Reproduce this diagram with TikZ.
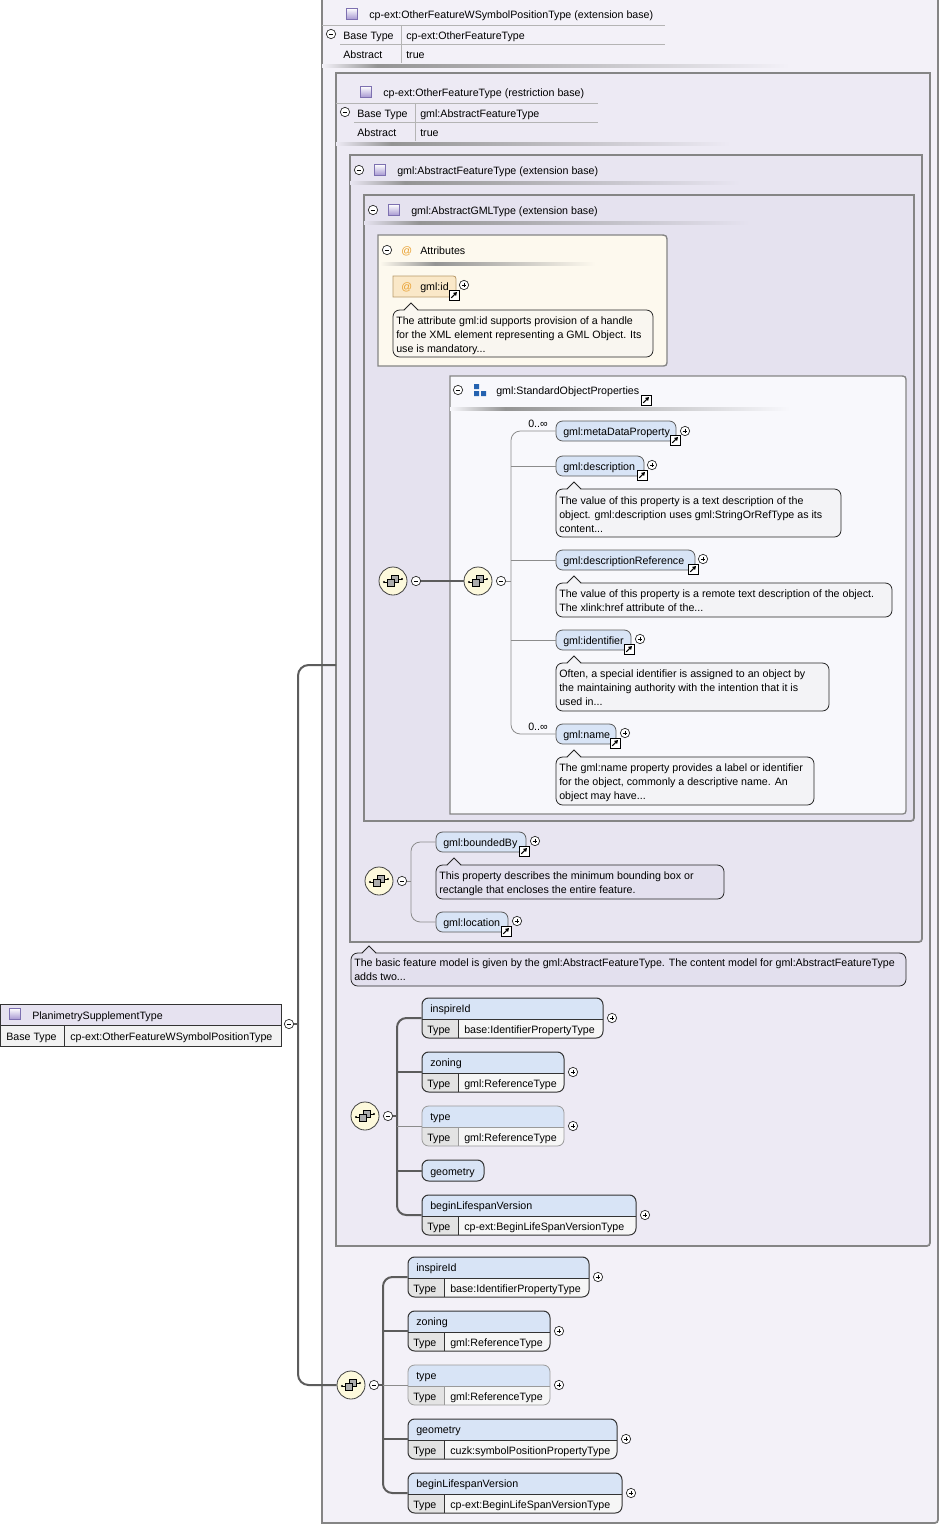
\documentclass[tikz,border=0pt]{standalone}
\usepackage{fontspec}
\setmainfont{Liberation Sans}
\usetikzlibrary{calc,fit,arrows.meta}
\definecolor{cA}{HTML}{F3F1F8}
\definecolor{cB}{HTML}{EDEAF4}
\definecolor{cC}{HTML}{E8E5F1}
\definecolor{cD}{HTML}{E5E2EF}
\definecolor{framegray}{HTML}{858585}
\definecolor{attfill}{HTML}{FDF9EE}
\definecolor{idfill}{HTML}{FAE8C8}
\definecolor{idborder}{HTML}{B89A6A}
\definecolor{atcol}{HTML}{E9A030}
\definecolor{sopfill}{HTML}{F8F8FC}
\definecolor{elfill}{HTML}{D8E4F6}
\definecolor{typecell}{HTML}{E3E3E3}
\definecolor{valcell}{HTML}{F6F6F6}
\definecolor{elbcol}{HTML}{333333}
\definecolor{elbocol}{HTML}{9A9A9A}
\definecolor{pillborder}{HTML}{5A5A5A}
\definecolor{seqfill}{HTML}{FDF9DC}
\definecolor{conncol}{HTML}{5C5C5C}
\definecolor{thincol}{HTML}{8C8C8C}
\definecolor{iconpurple}{HTML}{A394D0}
\definecolor{iconborder}{HTML}{7D70B0}
\definecolor{sopblue}{HTML}{2462B0}
\definecolor{noteA}{HTML}{F9F6F0}
\definecolor{noteB}{HTML}{F3F3F6}
\definecolor{noteC}{HTML}{E3E0EE}
\definecolor{lhead}{HTML}{E6E2F0}
\definecolor{lrow}{HTML}{F2F2F2}
\definecolor{tabline}{HTML}{B4B4B4}

\newcommand{\minusn}[3]{\node[pmc] (#1) at (#2,#3) {};
  \draw[pml] (#2-2.4,#3) -- (#2+2.4,#3);}
\newcommand{\plusn}[3]{\minusn{#1}{#2}{#3}
  \draw[pml] (#2,#3-2.4) -- (#2,#3+2.4);}
\newcommand{\linkn}[3]{\node[lnk] (#1) at (#2,#3) {};
  \draw[line width=0.8pt, -{Triangle[length=2.6pt,width=3pt]}] (#2-2.8,#3+2.8) -- (#2+3,#3-3);}
\newcommand{\seqn}[3]{\node[seqc] (#1) at (#2,#3) {};
  \draw[line width=0.5pt] (#2-9,#3+1) -- (#2-5,#3+1) (#2+4,#3-2) -- (#2+9,#3-2);
  \fill (#2-9,#3+1) circle (0.9pt) (#2+9,#3-2) circle (0.9pt);
  \draw[fill=gray!65, line width=0.45pt] (#2-2,#3-6) rectangle (#2+5,#3+1);
  \draw[fill=gray!65, line width=0.45pt] (#2-6,#3-2) rectangle (#2+1,#3+5);}
\newcommand{\picn}[3]{\node[picon] (#1) at (#2,#3) {};}
\newcommand{\gline}[4]{%
  \shade[left color=#4, right color=black!42] (#1,#2-1.2) rectangle (#1+55,#2+1.2);
  \shade[left color=black!42, right color=#4] (#1+55,#2-1.2) rectangle (#3,#2+1.2);}
\newcommand{\ntl}[4]{\node[txt] (#1) at (#2,#3) {#4};}
\newcommand{\pill}[5]{\node[pillst, fit={(#2,#3)(#4,#3+20)}] (#1) {};
  \node[txt] (#1t) at (#2+7,#3+14) {#5};}
\newcommand{\typed}[7]{%
  \node[inner sep=0pt, fit={(#2,#3)(#4,#3+40)}] (#1) {};
  \begin{scope}
    \clip[rounded corners=5pt] (#2,#3) rectangle (#4,#3+40);
    \fill[elfill] (#2,#3) rectangle (#4,#3+21);
    \fill[typecell] (#2,#3+21) rectangle (#2+36,#3+40);
    \fill[valcell] (#2+36,#3+21) rectangle (#4,#3+40);
  \end{scope}
  \draw[#7, line width=0.5pt] (#2,#3+21) -- (#4,#3+21) (#2+36,#3+21) -- (#2+36,#3+40);
  \draw[#7, rounded corners=5pt] (#2,#3) rectangle (#4,#3+40);
  \node[txt] (#1l) at (#2+8,#3+14) {#5};
  \node[txt] (#1k) at (#2+5,#3+35) {Type};
  \node[txt] (#1v) at (#2+42,#3+35) {#6};}
\newcommand{\notebox}[6]{%
  \node[notest, fill=#6, fit={(#2,#3)(#4,#5)}] (#1) {};
  \fill[#6] (#2+11,#3+0.9) -- (#2+18,#3-7) -- (#2+25,#3+0.9) -- cycle;
  \draw[line width=0.6pt, black!85] (#2+11,#3) -- (#2+18,#3-7) -- (#2+25,#3);}
\newcommand{\framebr}[6]{%
  \node[inner sep=0pt, fit={(#2,#3)(#4,#5)}] (#1) {};
  \filldraw[frm, fill=#6] (#2,#3) -- (#4,#3) -- (#4,#5-7) .. controls (#4,#5) .. (#4-7,#5) -- (#2,#5) -- cycle;}

\begin{document}
\begin{tikzpicture}[x=0.75pt,y=-0.75pt,
  txt/.style={font=\fontsize{8}{10}\selectfont, inner sep=0pt, anchor=base west, text=black},
  pmc/.style={circle, draw=black!85, fill=white, line width=0.5pt, minimum size=7pt, inner sep=0pt},
  pml/.style={line width=0.55pt, black},
  lnk/.style={rectangle, draw=black, fill=white, line width=0.6pt, minimum size=7.5pt, inner sep=0pt},
  seqc/.style={circle, draw=black!75, fill=seqfill, line width=0.6pt, minimum size=21pt, inner sep=0pt},
  pillst/.style={draw=pillborder, fill=elfill, rounded corners=5pt, line width=0.6pt, inner sep=0pt},
  notest/.style={draw=black!85, rounded corners=5pt, line width=0.6pt, inner sep=0pt},
  frm/.style={draw=framegray, line width=1.3pt},
  conn/.style={draw=conncol, line width=1.5pt},
  thinconn/.style={draw=thincol, line width=0.6pt},
  picon/.style={rectangle, draw=iconborder, top color=white, bottom color=iconpurple, minimum size=8.5pt, inner sep=0pt, line width=0.4pt},
  elb/.style={draw=elbcol, line width=0.75pt},
  elbo/.style={draw=elbocol, line width=0.6pt},
  tl/.style={draw=tabline, line width=0.5pt}]
\useasboundingbox (0,0) rectangle (940,1525);
\fill[white] (0,0) rectangle (940,1525);

% ---------- frame A (extension base) ----------
\node[inner sep=0pt, fit={(322,0)(938,1523)}] (fA) {};
\fill[cA] (322,0) rectangle (938,1523);
\draw[frm] (322,0) -- (322,1523) -- (931,1523) .. controls (938,1523) .. (938,1516) -- (938,0);
\picn{iA}{352}{14}
\ntl{tA}{369}{18}{cp-ext:OtherFeatureWSymbolPositionType (extension base)}
\draw[tl] (322,25) -- (665,25);
\draw[tl] (340,44) -- (665,44);
\draw[tl] (401,26) -- (401,63);
\minusn{mA}{331}{34}
\ntl{tA1}{343}{39}{Base Type}
\ntl{tA2}{406}{39}{cp-ext:OtherFeatureType}
\ntl{tA3}{343}{58}{Abstract}
\ntl{tA4}{406}{58}{true}
\gline{322}{66}{790}{cA}

% ---------- frame B (restriction base) ----------
\framebr{fB}{336}{73}{930}{1246}{cB}
\picn{iB}{366}{92}
\ntl{tB}{383}{96}{cp-ext:OtherFeatureType (restriction base)}
\draw[tl] (336,103) -- (598,103);
\draw[tl] (354,122) -- (598,122);
\draw[tl] (415,104) -- (415,141);
\minusn{mB}{345}{112}
\ntl{tB1}{357}{117}{Base Type}
\ntl{tB2}{420}{117}{gml:AbstractFeatureType}
\ntl{tB3}{357}{136}{Abstract}
\ntl{tB4}{420}{136}{true}
\gline{336}{144}{730}{cB}

% ---------- frame C ----------
\framebr{fC}{350}{155}{922}{942}{cC}
\minusn{mC}{359}{170}
\picn{iC}{380}{170}
\ntl{tC}{397}{174}{gml:AbstractFeatureType (extension base)}
\gline{350}{183}{740}{cC}

% ---------- frame D ----------
\framebr{fD}{364}{195}{914}{821}{cD}
\minusn{mD}{373}{210}
\picn{iD}{394}{210}
\ntl{tD}{411}{214}{gml:AbstractGMLType (extension base)}
\gline{364}{223}{750}{cD}

% ---------- attributes ----------
\node[inner sep=0pt, fit={(378,235)(667,366)}] (att) {};
\filldraw[draw=framegray, line width=1pt, fill=attfill] (378,235) -- (659,235) .. controls (667,235) .. (667,243) -- (667,359) .. controls (667,366) .. (660,366) -- (378,366) -- cycle;
\minusn{mAtt}{387}{250}
\node[txt, text=atcol] (atA) at (401,254) {@};
\ntl{tAtt}{420}{254}{Attributes}
\gline{380}{264}{595}{attfill}
\node[inner sep=0pt, fit={(393,276)(456,297)}] (gid) {};
\filldraw[draw=idborder, fill=idfill, line width=0.6pt] (393,276) -- (450,276) .. controls (456,276) .. (456,282) -- (456,297) -- (393,297) -- cycle;
\node[txt, text=atcol] (atB) at (401,290) {@};
\ntl{tgid}{420}{290}{gml:id}
\linkn{lgid}{454}{295}
\plusn{pgid}{464}{285}
\notebox{n1}{393}{310}{653}{357}{noteA}
\ntl{n1a}{396}{324}{The attribute gml:id supports provision of a handle}
\ntl{n1b}{396}{338}{for the XML element representing a GML Object. Its}
\ntl{n1c}{396}{352}{use is mandatory...}

% ---------- standard object properties ----------
\node[inner sep=0pt, fit={(450,376)(906,814)}] (sop) {};
\filldraw[draw=framegray, line width=1pt, fill=sopfill] (450,376) -- (899,376) .. controls (906,376) .. (906,383) -- (906,807) .. controls (906,814) .. (899,814) -- (450,814) -- cycle;
\minusn{mSop}{458}{390}
\node[inner sep=0pt, minimum size=9pt] (iSop) at (479,390) {};
\fill[sopblue] (474,384) rectangle (479,389) (474,391) rectangle (479,396) (481,391) rectangle (486,396);
\ntl{tSop}{496}{394}{gml:StandardObjectProperties}
\linkn{lSop}{646}{400}
\gline{450}{409}{790}{sopfill}

\pill{e1}{556}{421}{676}{gml:metaDataProperty}
\linkn{l1}{675}{440}
\plusn{p1}{685}{431}
\ntl{c1}{528}{427}{0..∞}
\pill{e2}{556}{456}{644}{gml:description}
\linkn{l2}{642}{475}
\plusn{p2}{652}{465}
\notebox{n2}{556}{489}{841}{537}{noteB}
\ntl{n2a}{559}{504}{The value of this property is a text description of the}
\ntl{n2b}{559}{518}{object. gml:description uses gml:StringOrRefType as its}
\ntl{n2c}{559}{532}{content...}
\pill{e3}{556}{550}{695}{gml:descriptionReference}
\linkn{l3}{693}{569}
\plusn{p3}{703}{559}
\notebox{n3}{556}{583}{892}{617}{noteB}
\ntl{n3a}{559}{597}{The value of this property is a remote text description of the object.}
\ntl{n3b}{559}{611}{The xlink:href attribute of the...}
\pill{e4}{556}{630}{631}{gml:identifier}
\linkn{l4}{629}{649}
\plusn{p4}{640}{639}
\notebox{n4}{556}{663}{829}{711}{noteB}
\ntl{n4a}{559}{677}{Often, a special identifier is assigned to an object by}
\ntl{n4b}{559}{691}{the maintaining authority with the intention that it is}
\ntl{n4c}{559}{705}{used in...}
\pill{e5}{556}{724}{616}{gml:name}
\linkn{l5}{615}{743}
\plusn{p5}{625}{733}
\ntl{c5}{528}{730}{0..∞}
\notebox{n5}{556}{757}{814}{805}{noteB}
\ntl{n5a}{559}{771}{The gml:name property provides a label or identifier}
\ntl{n5b}{559}{785}{for the object, commonly a descriptive name. An}
\ntl{n5c}{559}{799}{object may have...}

% sequences in D
\seqn{s1}{393}{581}
\minusn{s1m}{416}{581}
\seqn{s2}{478}{581}
\minusn{s2m}{501}{581}
\draw[conn] (s1m.east) -- (s2.west);
\coordinate (sv) at (511,581);
\draw[thinconn] (s2m.east) -- (sv);
\draw[thinconn, rounded corners=7pt] (e1.west) -- (sv |- e1.west) -- (sv |- e5.west) -- (e5.west);
\draw[thinconn] (sv |- e2.west) -- (e2.west);
\draw[thinconn] (sv |- e3.west) -- (e3.west);
\draw[thinconn] (sv |- e4.west) -- (e4.west);

% ---------- boundedBy / location ----------
\seqn{s3}{379}{881}
\minusn{s3m}{402}{881}
\pill{eb}{436}{832}{526}{gml:boundedBy}
\linkn{lb}{524}{851}
\plusn{pb}{535}{841}
\notebox{n6}{436}{865}{724}{899}{noteC}
\ntl{n6a}{439}{879}{This property describes the minimum bounding box or}
\ntl{n6b}{439}{893}{rectangle that encloses the entire feature.}
\pill{el}{436}{912}{508}{gml:location}
\linkn{ll}{506}{931}
\plusn{pl}{517}{921}
\coordinate (qv) at (411,881);
\draw[thinconn] (s3m.east) -- (qv);
\draw[thinconn, rounded corners=7pt] (eb.west) -- (qv |- eb.west) -- (qv |- el.west) -- (el.west);

% note of frame C
\notebox{n7}{351}{953}{906}{986}{noteC}
\ntl{n7a}{354}{966}{The basic feature model is given by the gml:AbstractFeatureType. The content model for gml:AbstractFeatureType}
\ntl{n7b}{354}{980}{adds two...}

% ---------- middle sequence ----------
\seqn{s4}{365}{1116}
\minusn{s4m}{388}{1116}
\typed{mi}{422}{998}{603}{inspireId}{base:IdentifierPropertyType}{elb}
\plusn{mip}{612}{1018}
\typed{mz}{422}{1052}{564}{zoning}{gml:ReferenceType}{elb}
\plusn{mzp}{573}{1072}
\typed{mt}{422}{1106}{564}{type}{gml:ReferenceType}{elbo}
\plusn{mtp}{573}{1126}
\node[pillst, draw=elbcol, line width=0.75pt, fit={(422,1160)(484,1181)}] (mg) {};
\ntl{mgt}{430}{1175}{geometry}
\typed{mb}{422}{1195}{636}{beginLifespanVersion}{cp-ext:BeginLifeSpanVersionType}{elb}
\plusn{mbp}{645}{1215}
\coordinate (mv) at (397,1116);
\draw[conn] (s4m.east) -- (mv);
\draw[conn, rounded corners=7pt] (mi.west) -- (mv |- mi.west) -- (mv |- mb.west) -- (mb.west);
\draw[conn] (mv |- mz.west) -- (mz.west);
\draw[thinconn] (mv |- mt.west) -- (mt.west);
\draw[conn] (mv |- mg.west) -- (mg.west);

% ---------- bottom sequence ----------
\seqn{s5}{351}{1385}
\minusn{s5m}{374}{1385}
\typed{bi}{408}{1257}{589}{inspireId}{base:IdentifierPropertyType}{elb}
\plusn{bip}{598}{1277}
\typed{bz}{408}{1311}{550}{zoning}{gml:ReferenceType}{elb}
\plusn{bzp}{559}{1331}
\typed{bt}{408}{1365}{550}{type}{gml:ReferenceType}{elbo}
\plusn{btp}{559}{1385}
\typed{bg}{408}{1419}{617}{geometry}{cuzk:symbolPositionPropertyType}{elb}
\plusn{bgp}{626}{1439}
\typed{bb}{408}{1473}{622}{beginLifespanVersion}{cp-ext:BeginLifeSpanVersionType}{elb}
\plusn{bbp}{631}{1493}
\coordinate (wv) at (383,1385);
\draw[conn] (s5m.east) -- (wv);
\draw[conn, rounded corners=7pt] (bi.west) -- (wv |- bi.west) -- (wv |- bb.west) -- (bb.west);
\draw[conn] (wv |- bz.west) -- (bz.west);
\draw[thinconn] (wv |- bt.west) -- (bt.west);
\draw[conn] (wv |- bg.west) -- (bg.west);

% ---------- left type ----------
\node[inner sep=0pt, fit={(0.5,1004)(281,1046)}] (lt) {};
\fill[lhead] (0.5,1004) rectangle (281,1025);
\fill[lrow] (0.5,1025) rectangle (281,1046);
\draw[elb] (0.5,1004) rectangle (281,1046);
\draw[elb, line width=0.5pt] (0.5,1025) -- (281,1025) (64,1025) -- (64,1046);
\picn{iL}{15}{1014}
\ntl{tL}{32}{1019}{PlanimetrySupplementType}
\ntl{tL1}{6}{1040}{Base Type}
\ntl{tL2}{70}{1040}{cp-ext:OtherFeatureWSymbolPositionType}
\minusn{lm}{289}{1024}
\coordinate (Bin) at (336,665);
\coordinate (lv) at (298,1024);
\draw[conn] (lm.east) -- (lv);
\draw[conn, rounded corners=8pt] (Bin) -- (lv |- Bin) -- (lv |- s5.west) -- (s5.west);
\end{tikzpicture}
\end{document}
